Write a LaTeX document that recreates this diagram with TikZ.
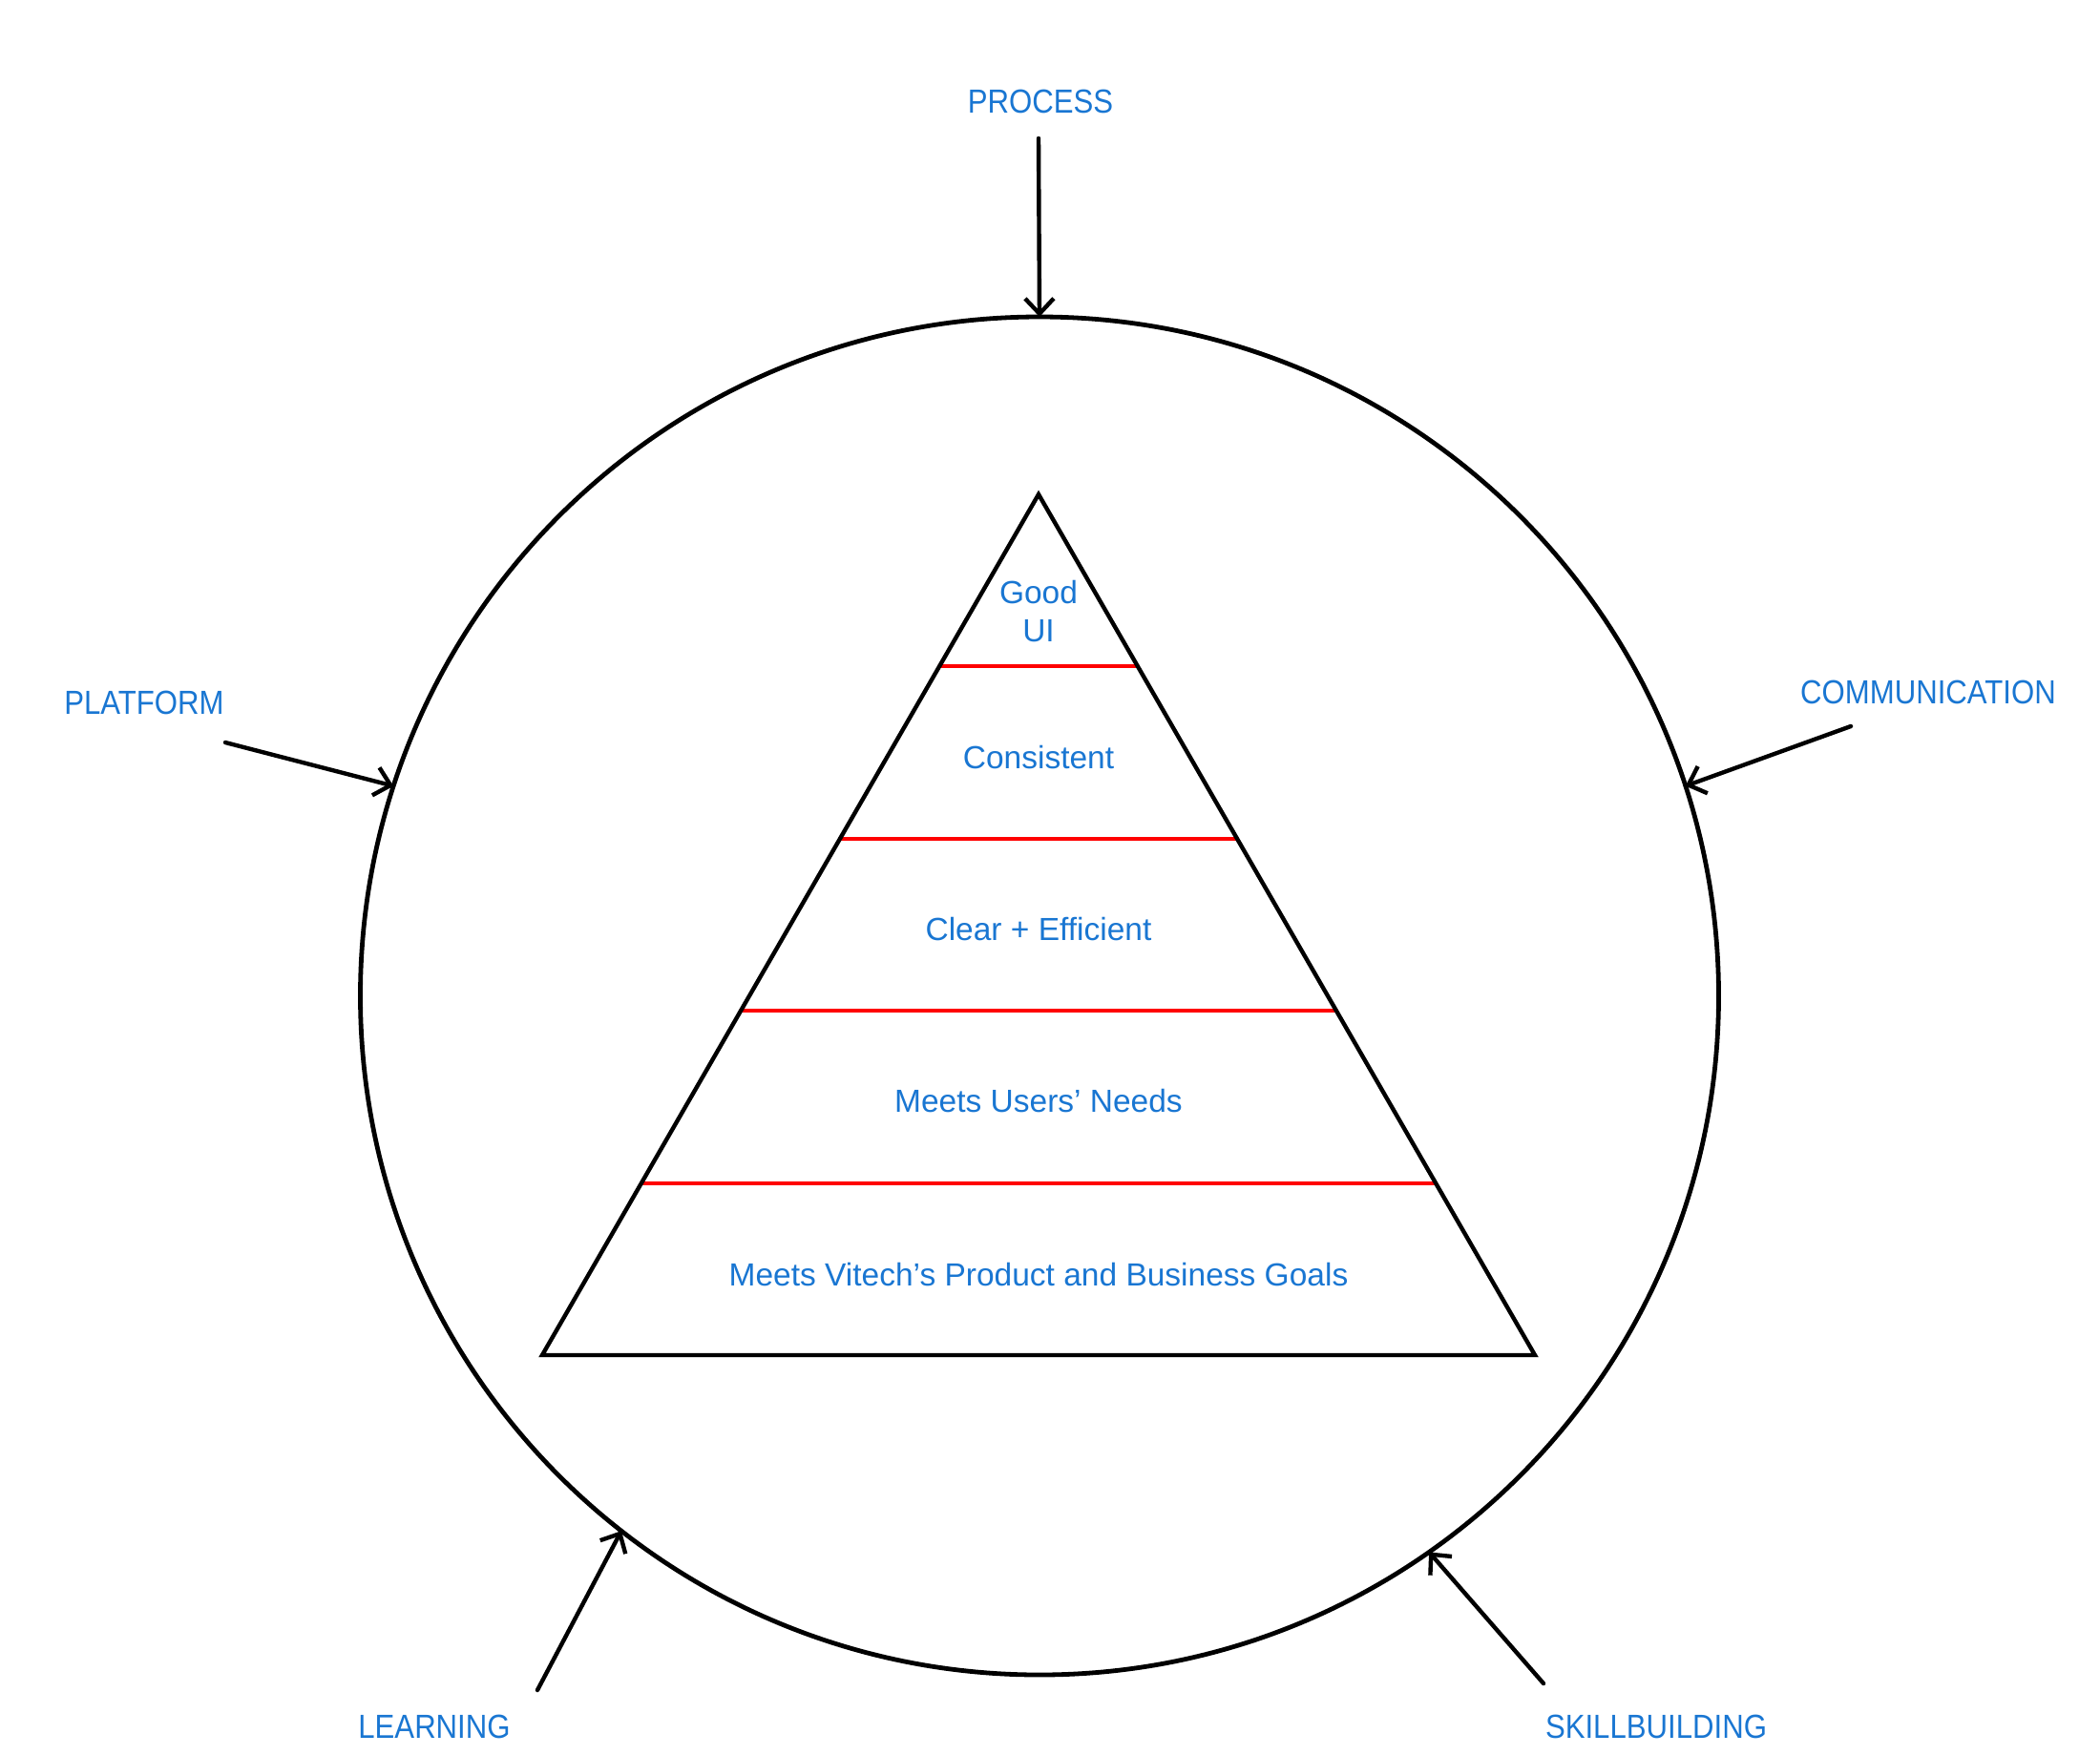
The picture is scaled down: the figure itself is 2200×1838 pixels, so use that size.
\documentclass[tikz,border=0pt]{standalone}
\usepackage{fontspec}
\setmainfont{Liberation Sans}
\newfontfamily\capsfont[FakeStretch=0.89]{Liberation Sans}
\usepackage[usenames]{xcolor}
\usepackage{tikz}
\usetikzlibrary{arrows.meta}
\definecolor{labelblue}{RGB}{25,118,210}

\begin{document}
\begin{tikzpicture}[line cap=round,line join=round,>={Straight Barb[length=8pt,width=15pt]},x=0.5pt,y=-0.5pt,
  level/.style={text=labelblue,inner sep=0pt,font=\fontsize{16.75}{20}\selectfont},
  force/.style={text=labelblue,inner sep=0pt,anchor=base,font=\capsfont\fontsize{17.5}{21}\selectfont},
  push/.style={->,line width=2.2pt}]
\useasboundingbox (0,0) rectangle (2200,1838);
\node[circle,draw,line width=2.4pt,minimum size=711.5pt,inner sep=0pt,outer sep=0pt] (ring) at (1089,1043.5) {};
\draw [red,line width=2pt] (984,698.4) -- (1192,698.4);
\draw [red,line width=2pt] (880,878.8) -- (1296,878.8);
\draw [red,line width=2pt] (776,1059.2) -- (1400,1059.2);
\draw [red,line width=2pt] (672,1239.6) -- (1504,1239.6);
\draw [line width=2.2pt,line join=miter] (1088,518) -- (1608,1420) -- (568,1420) -- cycle;
\node[level,align=center] (goodui) at (1088,641) {Good\\UI};
\node[level,anchor=base] (consistent) at (1088,805) {Consistent};
\node[level,anchor=base] (clear) at (1088,985) {Clear + Efficient};
\node[level,anchor=base] (users) at (1088,1165) {Meets Users’ Needs};
\node[level,anchor=base] (goals) at (1088,1347) {Meets Vitech’s Product and Business Goals};
\node[force] (process) at (1090,118) {PROCESS};
\node[force] (platform) at (151,748) {PLATFORM};
\node[force] (communication) at (2020,737) {COMMUNICATION};
\node[force] (learning) at (455,1821) {LEARNING};
\node[force] (skillbuilding) at (1735,1821) {SKILLBUILDING};
\coordinate (processtail) at (1088,145);
\coordinate (platformtail) at (236,778);
\coordinate (communicationtail) at (1939,761);
\coordinate (learningtail) at (563,1771);
\coordinate (skillbuildingtail) at (1617,1764);
\draw [push] (processtail) -- (ring.90);
\draw [push] (platformtail) -- (ring.162);
\draw [push] (communicationtail) -- (ring.18);
\draw [push] (learningtail) -- (ring.232.6);
\draw [push] (skillbuildingtail) -- (ring.305.25);
\end{tikzpicture}
\end{document}
